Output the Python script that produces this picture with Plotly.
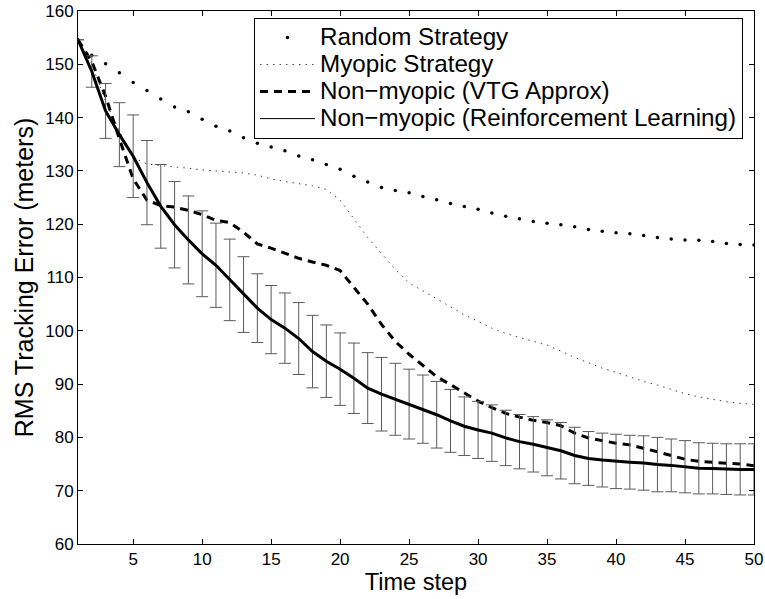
import plotly.graph_objects as go

# Time steps
steps = list(range(1, 51))

# RMS tracking error (meters) per strategy
random_rms = [154.6, 151.7, 150.1, 148.4, 146.6, 145.1, 143.5, 142.0, 141.1, 139.7,
              138.4, 137.5, 136.2, 135.2, 134.5, 133.8, 132.8, 132.1, 131.2, 130.3,
              129.0, 127.9, 126.9, 126.3, 125.9, 125.2, 124.6, 123.9, 123.3, 122.8,
              122.1, 121.5, 121.0, 120.5, 120.2, 119.9, 119.5, 119.0, 118.7, 118.4,
              118.2, 117.9, 117.5, 117.2, 117.05, 117.0, 116.75, 116.4, 116.2, 116.1]

myopic_rms = [154.6, 150.0, 143.0, 137.5, 132.5, 131.3, 131.0, 130.8, 130.5, 130.2,
              130.0, 129.8, 129.6, 129.2, 128.5, 128.0, 127.6, 127.2, 126.5, 124.5,
              121.0, 117.5, 114.5, 111.5, 109.0, 107.5, 106.0, 104.5, 103.0, 101.8,
              100.5, 99.5, 98.8, 98.0, 97.3, 96.2, 95.0, 94.0, 93.0, 92.2,
              91.3, 90.5, 89.8, 89.0, 88.2, 87.6, 87.1, 86.7, 86.4, 86.2]

vtg_rms = [154.6, 150.5, 144.0, 136.0, 128.5, 124.5, 123.5, 123.2, 122.6, 121.8,
           120.7, 120.3, 118.5, 116.3, 115.5, 114.6, 113.6, 112.9, 112.3, 111.3,
           108.2, 105.0, 101.2, 98.0, 95.6, 93.5, 91.4, 89.9, 88.4, 86.8,
           85.6, 84.5, 83.8, 83.2, 82.8, 82.2, 80.8, 79.9, 79.4, 78.9,
           78.6, 78.0, 77.3, 76.6, 75.9, 75.5, 75.35, 75.2, 75.0, 74.7]

rl_rms = [154.6, 148.65, 141.25, 136.8, 132.75, 127.8, 123.35, 119.9, 117.05, 114.45,
          112.3, 109.55, 106.8, 104.25, 102.1, 100.5, 98.55, 96.1, 94.3, 92.8,
          91.1, 89.25, 88.1, 87.15, 86.25, 85.3, 84.25, 83.1, 82.1, 81.4,
          80.8, 79.9, 79.2, 78.7, 78.05, 77.5, 76.6, 76.05, 75.75, 75.5,
          75.35, 75.2, 74.9, 74.75, 74.5, 74.2, 74.15, 74.05, 74.0, 74.0]

# Half-width of the RL error bars
rl_err = [0.0, 2.95, 5.15, 6.0, 7.75, 7.9, 7.85, 8.1, 8.25, 8.05,
          7.9, 7.65, 7.1, 6.45, 6.4, 6.6, 6.75, 6.8, 6.8, 6.8,
          6.6, 6.65, 6.9, 6.75, 6.55, 6.4, 6.25, 5.9, 5.5, 5.35,
          5.3, 5.2, 5.1, 5.2, 5.25, 5.3, 5.3, 5.05, 5.05, 5.1,
          5.05, 5.1, 5.1, 4.95, 4.9, 4.8, 4.75, 4.75, 4.8, 4.8]

series_names = ["Random Strategy", "Myopic Strategy",
                "Non\u2212myopic (VTG Approx)", "Non\u2212myopic (Reinforcement Learning)"]

x_ticks = [5, 10, 15, 20, 25, 30, 35, 40, 45, 50]
y_ticks = [60, 70, 80, 90, 100, 110, 120, 130, 140, 150, 160]

FONT = "Liberation Sans, Arial, Helvetica, sans-serif"


def legend_label(text):
    # larger glyphs on a tighter legend row pitch
    return '<span style="font-size:24.2px">' + text + '</span>'


fig = go.Figure()

fig.add_trace(go.Scatter(
    x=steps, y=random_rms, mode="markers", name=legend_label(series_names[0]),
    marker=dict(color="black", size=3.5),
))
fig.add_trace(go.Scatter(
    x=steps, y=myopic_rms, mode="lines", name=legend_label(series_names[1]),
    line=dict(color="#444444", width=1, dash="1.5px,5px"),
))
fig.add_trace(go.Scatter(
    x=steps, y=vtg_rms, mode="lines", name=legend_label(series_names[2]),
    line=dict(color="black", width=3, dash="8px,6px"),
))
# RL mean with error bars; its legend entry uses a thin line
fig.add_trace(go.Scatter(
    x=steps, y=rl_rms, mode="lines", name=series_names[3], showlegend=False,
    legendgroup="rl",
    line=dict(color="black", width=3),
    error_y=dict(type="data", array=rl_err, visible=True,
                 color="#5a5a5a", thickness=1, width=6),
))
fig.add_trace(go.Scatter(
    x=[None], y=[None], mode="lines", name=legend_label(series_names[3]),
    legendgroup="rl",
    line=dict(color="black", width=1),
))

axis_common = dict(
    showline=True, linecolor="black", linewidth=1, mirror="ticks",
    ticks="inside", ticklen=5, tickcolor="black", tickwidth=1,
    showgrid=False, zeroline=False, automargin=False,
    tickfont=dict(family=FONT, size=17, color="black"),
)

fig.update_xaxes(range=[1, 50], tickvals=x_ticks,
                 title=dict(text="Time step", font=dict(family=FONT, size=23.5, color="black"),
                            standoff=2),
                 **axis_common)
fig.update_yaxes(range=[60, 160], tickvals=y_ticks,
                 title=dict(text="RMS Tracking Error (meters)",
                            font=dict(family=FONT, size=25, color="black"), standoff=4),
                 **axis_common)

fig.update_layout(
    width=765, height=599,
    margin=dict(l=78, r=11, t=11, b=55),
    paper_bgcolor="white", plot_bgcolor="white",
    showlegend=True,
    legend=dict(
        x=0.9837, y=0.987, xanchor="right", yanchor="top",
        bgcolor="white", bordercolor="black", borderwidth=1,
        font=dict(family=FONT, size=18.5, color="black"),
        itemwidth=55, tracegroupgap=0,
    ),
)

fig.write_html("out.html")
